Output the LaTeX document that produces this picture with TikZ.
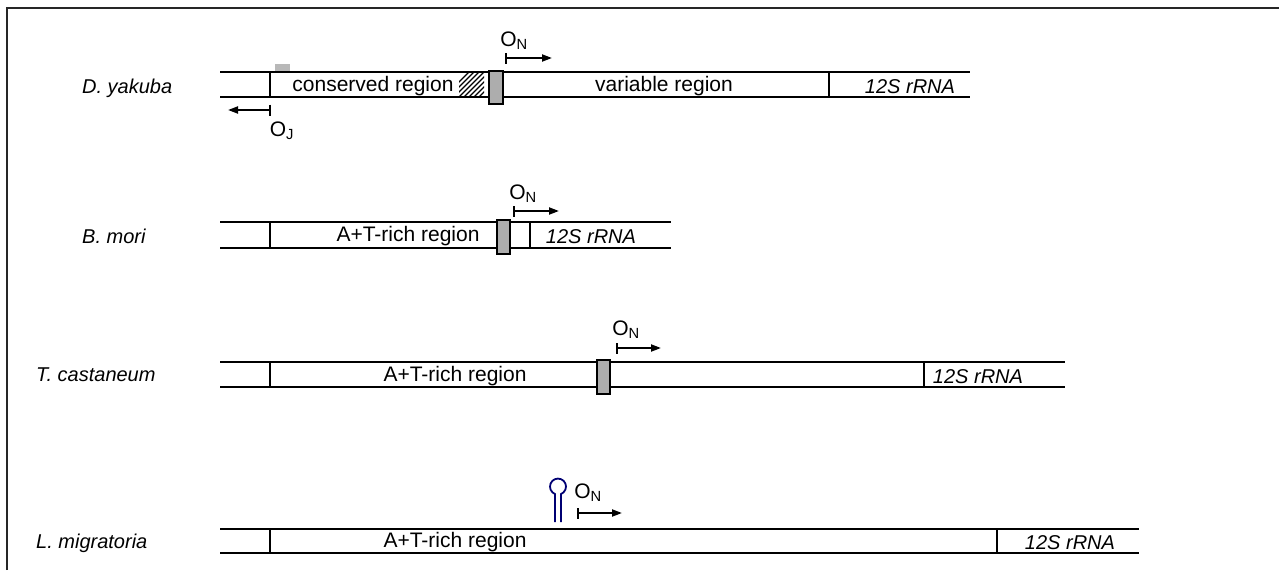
\documentclass[tikz,border=0pt]{standalone}
\usepackage{fontspec}
\setmainfont{Liberation Sans}
\usetikzlibrary{arrows.meta}
\begin{document}
\begin{tikzpicture}[x=1pt,y=-1pt,
  seq/.style={line width=2.2pt},
  lab/.style={font=\fontsize{21}{25}\selectfont, inner sep=0pt},
  species/.style={font=\fontsize{20}{24}\selectfont\itshape, inner sep=0pt, anchor=west},
  gene/.style={font=\fontsize{20}{24}\selectfont\itshape, inner sep=0pt},
  origin/.style={line width=2pt, {Bar[width=11pt]}-{Triangle[length=10pt,width=7pt]}},
  gbox/.style={draw, line width=2pt, fill=black!32},
  hairpin/.style={draw=blue!45!black, line width=1.8pt},
]
\useasboundingbox (0,0) rectangle (1279,570);
\draw[line width=2.6pt, black!85] (7,570) -- (7,8) -- (1279,8);

% ---------- Row 1: D. yakuba ----------
\node[species] (sp1) at (82,88) {D. yakuba};
\draw[seq] (220,72) -- (970,72);
\draw[seq] (220,97) -- (970,97);
\draw[seq] (270,72) -- (270,97);
\draw[seq] (829,72) -- (829,97);
\fill[black!28] (275,64) rectangle (290,71);
\begin{scope}
  \clip (459,73) rectangle (484,96);
  \foreach \i in {0,...,10} \draw[line width=1.1pt] (444+\i*5,97) -- ++(25,-25);
\end{scope}
\draw[gbox] (489,71) rectangle (503,104);
\node[lab] (cr1) at (373,86) {conserved region};
\node[lab] (vr1) at (664,86) {variable region};
\node[gene] (rr1) at (910,87) {12S rRNA};
\coordinate (oj1s) at (271,110);
\coordinate (oj1e) at (228,110);
\draw[origin] (oj1s) -- (oj1e);
\node[lab] (oj1) at (282,131) {O\textsubscript{J}};
\coordinate (on1s) at (505,58);
\coordinate (on1e) at (552,58);
\draw[origin] (on1s) -- (on1e);
\node[lab] (on1) at (514,41) {O\textsubscript{N}};

% ---------- Row 2: B. mori ----------
\node[species] (sp2) at (82,236) {B. mori};
\draw[seq] (220,222) -- (671,222);
\draw[seq] (220,248) -- (671,248);
\draw[seq] (270,222) -- (270,248);
\draw[seq] (530,222) -- (530,248);
\draw[gbox] (497,220) rectangle (510,254);
\node[lab] (at2) at (408,236) {A+T-rich region};
\node[gene] (rr2) at (591,237) {12S rRNA};
\coordinate (on2s) at (513,211);
\coordinate (on2e) at (559,211);
\draw[origin] (on2s) -- (on2e);
\node[lab] (on2) at (523,194) {O\textsubscript{N}};

% ---------- Row 3: T. castaneum ----------
\node[species] (sp3) at (36,375) {T. castaneum};
\draw[seq] (220,362) -- (1065,362);
\draw[seq] (220,387) -- (1065,387);
\draw[seq] (270,362) -- (270,387);
\draw[seq] (924,362) -- (924,387);
\draw[gbox] (597,360) rectangle (610,394);
\node[lab] (at3) at (455,376) {A+T-rich region};
\node[gene] (rr3) at (978,377) {12S rRNA};
\coordinate (on3s) at (616,348);
\coordinate (on3e) at (661,348);
\draw[origin] (on3s) -- (on3e);
\node[lab] (on3) at (626,330) {O\textsubscript{N}};

% ---------- Row 4: L. migratoria ----------
\node[species] (sp4) at (36,543) {L. migratoria};
\draw[seq] (220,529) -- (1139,529);
\draw[seq] (220,553) -- (1139,553);
\draw[seq] (270,529) -- (270,553);
\draw[seq] (997,529) -- (997,553);
\node[lab] (at4) at (455,542) {A+T-rich region};
\node[gene] (rr4) at (1070,543) {12S rRNA};
\draw[hairpin] (555,522) -- (555,494) arc[start angle=112, end angle=428, radius=8] -- (561,522);
\coordinate (on4s) at (577,513);
\coordinate (on4e) at (622,513);
\draw[origin] (on4s) -- (on4e);
\node[lab] (on4) at (588,493) {O\textsubscript{N}};
\end{tikzpicture}
\end{document}
